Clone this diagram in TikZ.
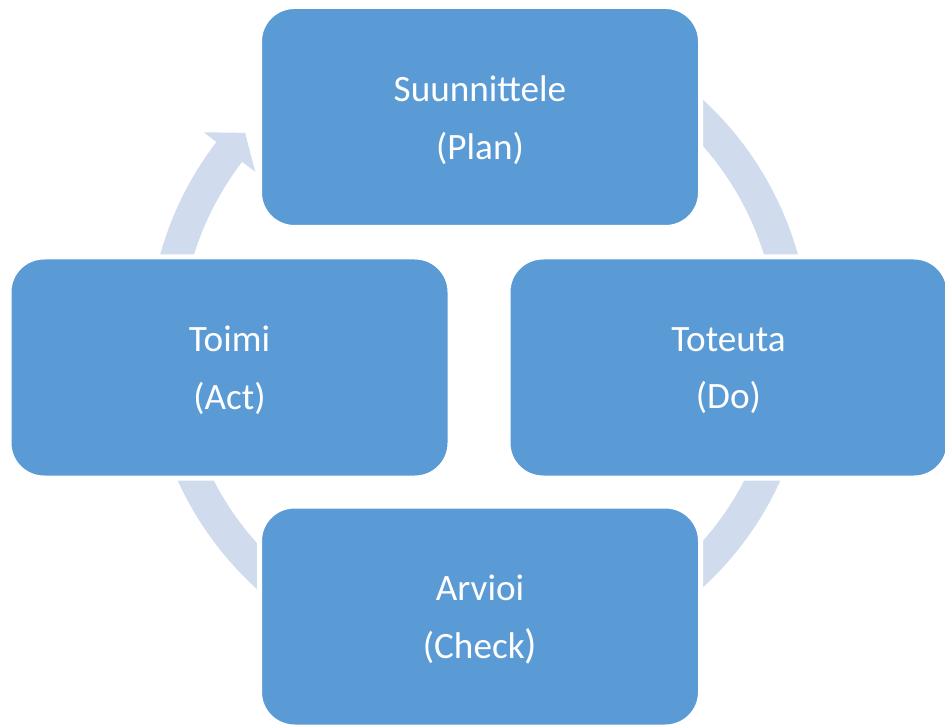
\documentclass[tikz,border=0pt]{standalone}
\usepackage{fontspec}
\setmainfont{Carlito}
\usetikzlibrary{calc}
\definecolor{boxblue}{HTML}{5B9BD5}
\definecolor{bandblue}{HTML}{D0DBEE}
\tikzset{
  cyclebox/.style={rectangle, rounded corners=35pt, fill=boxblue, draw=white,
    line width=5pt, minimum width=441pt, minimum height=221pt, inner sep=0pt},
  cycletext/.style={text=white, align=center, inner sep=0pt,
    font=\fontsize{37.2}{57.5}\selectfont, yshift=-3pt},
  band/.style={fill=bandblue}
}
\begin{document}
\begin{tikzpicture}[x=1pt,y=1pt]
\useasboundingbox (0,0) rectangle (945,724);
\coordinate (c) at (479,380.5);
% circular arrow band
\fill[band] ($(c)+(125:331)$) arc[start angle=125, end angle=-217.5, radius=331]
  -- ($(c)+(142.5:347)$) -- ($(c)+(138:314.75)$) -- ($(c)+(142.5:282)$)
  -- ($(c)+(142.5:298.5)$) arc[start angle=-217.5, end angle=125, radius=298.5] -- cycle;
% boxes
\node[cyclebox] (plan) at (480,607) {};
\node[cyclebox] (do) at (728.5,356.5) {};
\node[cyclebox] (check) at (480,107.5) {};
\node[cyclebox] (act) at (229.5,356.5) {};
% texts
\node[cycletext] (planT) at (plan.center) {Suunnittele\\(Plan)};
\node[cycletext] (doT) at (do.center) {Toteuta\\(Do)};
\node[cycletext] (checkT) at (check.center) {Arvioi\\(Check{\fontsize{41}{41}\selectfont)}};
\node[cycletext] (actT) at (act.center) {Toimi\\(Act)};
\end{tikzpicture}
\end{document}
